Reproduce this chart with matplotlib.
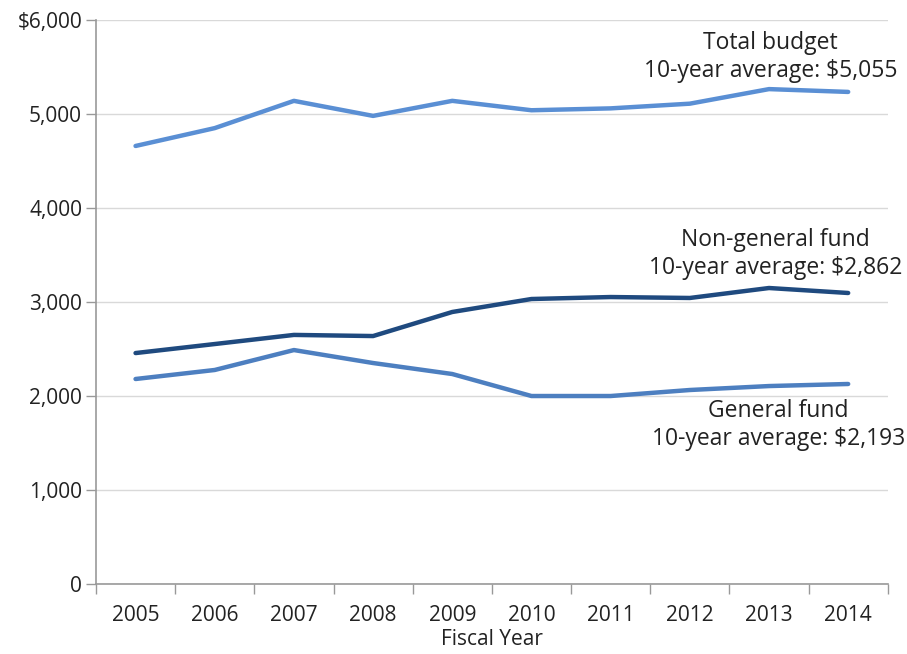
import matplotlib.pyplot as plt
import numpy as np

years = ["2005", "2006", "2007", "2008", "2009", "2010", "2011", "2012", "2013", "2014"]
total_budget = [4660, 4850, 5140, 4980, 5140, 5040, 5060, 5110, 5265, 5235]
non_general = [2457, 2553, 2650, 2638, 2894, 3032, 3053, 3043, 3149, 3096]
general_fund = [2181, 2277, 2489, 2351, 2234, 2000, 2000, 2064, 2106, 2128]
y_ticks = [0, 1000, 2000, 3000, 4000, 5000, 6000]
y_labels = ["0", "1,000", "2,000", "3,000", "4,000", "5,000", "$6,000"]

plt.rcParams['font.family'] = ['Open Sans', 'DejaVu Sans']

fig = plt.figure(figsize=(9.07, 6.54), dpi=100)
ax = fig.add_axes([0.1058, 0.107, 0.873, 0.8624])

x = np.arange(len(years))
ax.plot(x, total_budget, color='#5a8fd4', lw=3.2, solid_capstyle='round', zorder=3)
ax.plot(x, non_general, color='#1f4a7f', lw=3.2, solid_capstyle='round', zorder=3)
ax.plot(x, general_fund, color='#4d7fc0', lw=3.2, solid_capstyle='round', zorder=3)

ax.set_xlim(-0.5, len(years) - 0.5)
ax.set_ylim(0, 6000)

fs = 15
ax.set_yticks(y_ticks)
ax.set_yticklabels(y_labels)
ax.set_xticks(x)
ax.set_xticklabels(years)
ax.set_xticks(np.arange(len(years) + 1) - 0.5, minor=True)
ax.tick_params(axis='x', which='major', length=0, pad=15, labelsize=fs, colors='#222222')
ax.tick_params(axis='x', which='minor', length=7, width=1, color='#999999', direction='out')
ax.tick_params(axis='y', length=7, width=1, color='#999999', labelsize=fs, labelcolor='#222222', pad=3)

ax.grid(axis='y', color='#d9d9d9', lw=1)
ax.set_axisbelow(True)
for s in ['top', 'right']:
    ax.spines[s].set_visible(False)
for s in ['left', 'bottom']:
    ax.spines[s].set_color('#999999')
    ax.spines[s].set_linewidth(1.2)

ax.set_xlabel("Fiscal Year", fontsize=fs, color='#222222', labelpad=2)

tkw = dict(ha='center', va='center', multialignment='center', fontsize=16.5,
           color='#222222', linespacing=1.25)
ax.text(8.02, 5606, "Total budget\n10-year average: $5,055", **tkw)
ax.text(8.08, 3511, "Non-general fund\n10-year average: $2,862", **tkw)
ax.text(8.12, 1691, "General fund\n10-year average: $2,193", **tkw)

fig.savefig("out.png", dpi=100)
